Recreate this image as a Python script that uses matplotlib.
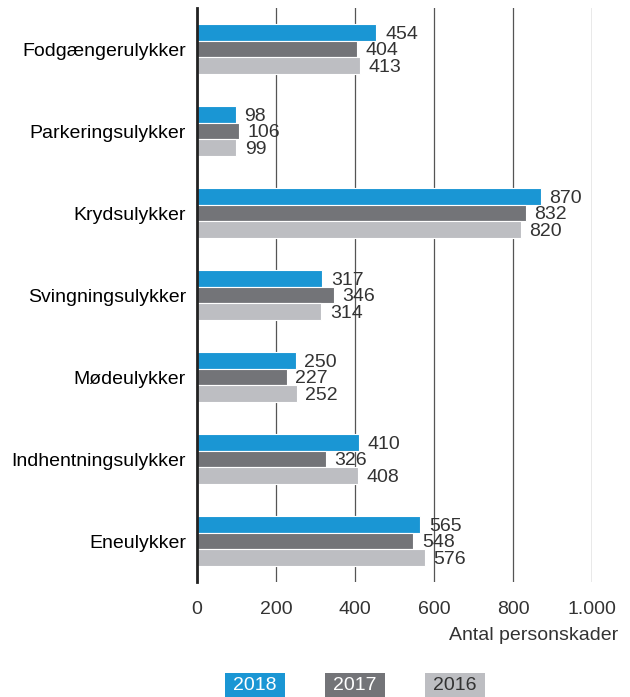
import numpy as np
import matplotlib.pyplot as plt
from matplotlib.patches import Rectangle

plt.rcParams['font.family'] = ['Liberation Sans', 'DejaVu Sans']

categories = ['Fodgængerulykker', 'Parkeringsulykker', 'Krydsulykker',
              'Svingningsulykker', 'Mødeulykker', 'Indhentningsulykker', 'Eneulykker']
years = ['2018', '2017', '2016']
v2018 = [454, 98, 870, 317, 250, 410, 565]
v2017 = [404, 106, 832, 346, 227, 326, 548]
v2016 = [413, 99, 820, 314, 252, 408, 576]
xticks = [0, 200, 400, 600, 800, 1000]
xticklabels = ['0', '200', '400', '600', '800', '1.000']

colors = ['#1a96d4', '#737478', '#bdbec2']
text_col = '#333333'
fs = 14

fig = plt.figure(figsize=(6.3, 6.97), dpi=100)
ax = fig.add_axes([197 / 630, 1 - 582 / 697, (592 - 197) / 630, 574 / 697])

y = np.arange(len(categories))
h = 0.2
for i, (vals, c) in enumerate(zip([v2018, v2017, v2016], colors)):
    pos = y + (i - 1) * h
    ax.barh(pos, vals, height=h, color=c, edgecolor='white', linewidth=0.8, zorder=3)
    for p, v in zip(pos, vals):
        ax.text(v + 22, p + 0.02, str(v), va='center', ha='left', fontsize=fs,
                color=text_col, zorder=4)

ax.set_xlim(0, 1000)
ax.set_ylim(len(categories) - 0.5, -0.5)
ax.set_yticks(y)
ax.set_yticklabels(categories, fontsize=fs, color='black')
ax.set_xticks(xticks)
ax.set_xticklabels(xticklabels, fontsize=fs, color=text_col)
ax.tick_params(axis='y', length=0, pad=8)
ax.tick_params(axis='x', length=0, pad=14)
ax.grid(axis='x', color='#555555', linewidth=0.9, zorder=0)
for s in ['top', 'right', 'bottom']:
    ax.spines[s].set_visible(False)
ax.spines['left'].set_linewidth(2)
ax.spines['left'].set_color('#222222')
ax.spines['left'].set_zorder(5)

fig.text(618 / 630, 1 - 636 / 697, 'Antal personskader', ha='right', va='center',
         fontsize=fs, color=text_col)

# legend boxes
for x0, yr, c, tc in zip([225, 325, 425], years, colors, ['white', 'white', text_col]):
    fig.patches.append(Rectangle((x0 / 630, 0), 60 / 630, 24 / 697, facecolor=c,
                                 edgecolor='none', transform=fig.transFigure))
    fig.text((x0 + 30) / 630, 11 / 697, yr, ha='center', va='center', fontsize=fs,
             color=tc)

fig.savefig('out.png', dpi=100)
